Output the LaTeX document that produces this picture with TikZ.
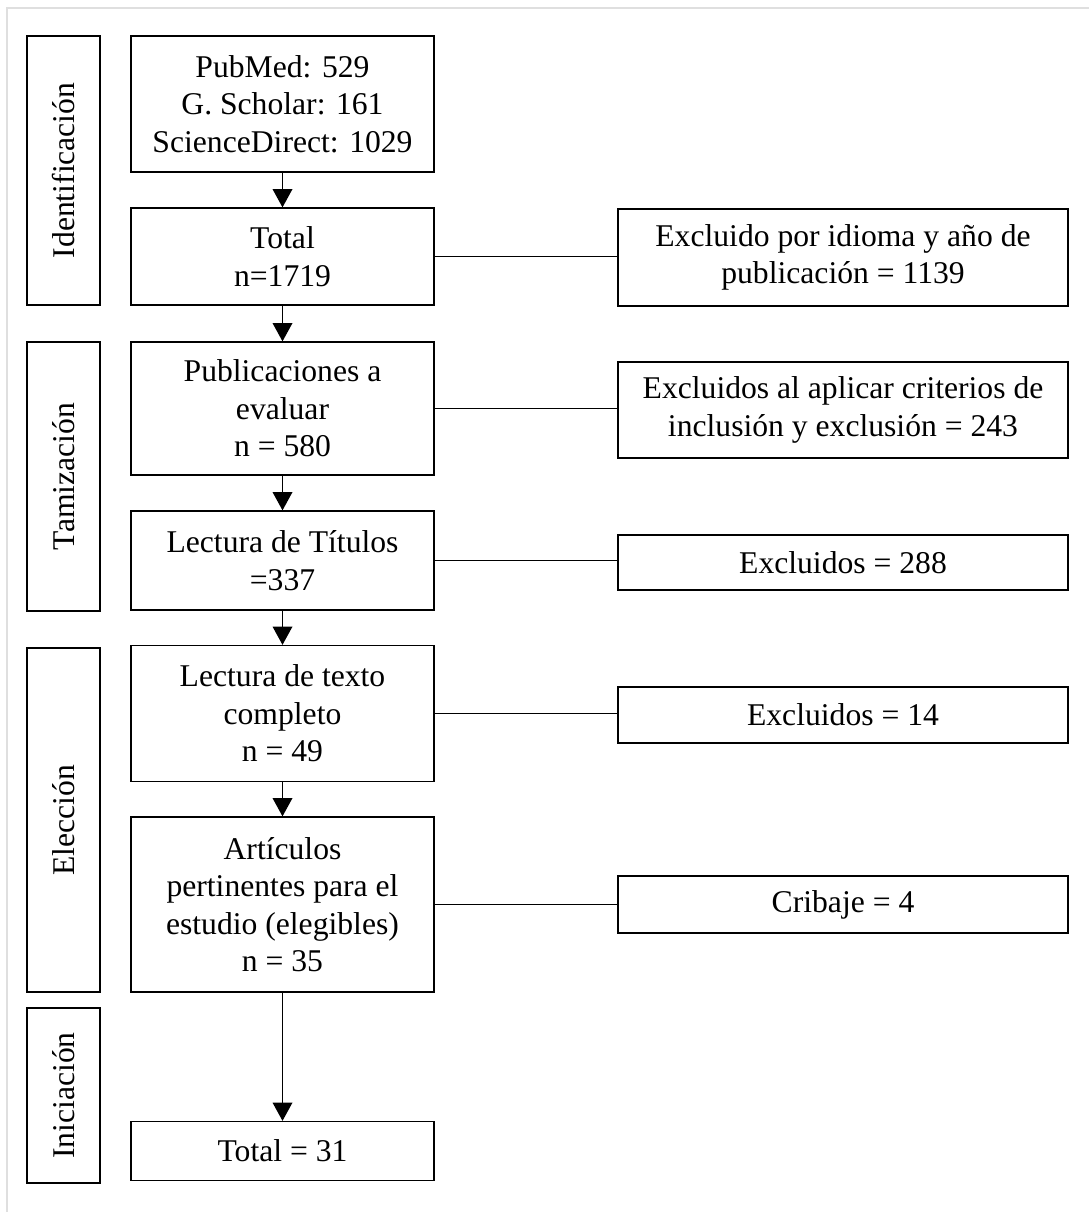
\documentclass[tikz,border=0pt]{standalone}
\usepackage{fontspec}
\setmainfont{Liberation Serif}
\usetikzlibrary{arrows.meta}

\tikzset{
    caja/.style={draw, line width=0.9pt, align=center, minimum width=7.575cm, inner sep=2pt},
    excl/.style={draw, line width=0.9pt, align=center, minimum width=11.25cm, inner sep=2pt},
    fase/.style={draw, line width=1.7pt, rotate=90, minimum height=1.825cm, inner sep=0pt},
    flecha/.style={line width=0.9pt, -{Triangle[width=14pt,length=13pt]}},
    linea/.style={line width=0.9pt}
}

\begin{document}
\begin{tikzpicture}[x=0.025cm, y=-0.025cm, font=\fontsize{22.5}{26.7}\selectfont]
    \useasboundingbox (0,0) rectangle (1089,1212);
    \draw[gray!25, line width=2pt] (7,1212)--(7,8)--(1089,8);

    \node[fase, minimum width=6.725cm] (identificacion) at (63.5,170.5) {Identificación};
    \node[fase, minimum width=6.725cm] (tamizacion) at (63.5,476.5) {Tamización};
    \node[fase, minimum width=8.6cm] (eleccion) at (63.5,820) {Elección};
    \node[fase, minimum width=4.375cm] (iniciacion) at (63.5,1095.5) {Iniciación};

    \node[caja, minimum height=3.4cm] (bases) at (282.5,104) {PubMed: 529\\G. Scholar: 161\\ScienceDirect: 1029};
    \node[caja, minimum height=2.425cm] (total) at (282.5,256.5) {Total\\n=1719};
    \node[caja, minimum height=3.325cm] (evaluar) at (282.5,408.5) {Publicaciones a\\evaluar\\n = 580};
    \node[caja, minimum height=2.475cm] (titulos) at (282.5,560.5) {Lectura de Títulos\\=337};
    \node[caja, minimum height=3.4cm] (texto) at (282.5,713.5) {Lectura de texto\\completo\\n = 49};
    \node[caja, minimum height=4.375cm] (articulos) at (282.5,904.5) {Artículos\\pertinentes para el\\estudio (elegibles)\\n = 35};
    \node[caja, minimum height=1.475cm] (final) at (282.5,1151) {Total = 31};

    \node[excl, minimum height=2.425cm] (idioma) at (843,257.5) {Excluido por idioma y año de\\publicación = 1139};
    \node[excl, minimum height=2.4cm] (criterios) at (843,410) {Excluidos al aplicar criterios de\\inclusión y exclusión = 243};
    \node[excl, minimum height=1.375cm] (excl288) at (843,562.5) {Excluidos = 288};
    \node[excl, minimum height=1.4cm] (excl14) at (843,715) {Excluidos = 14};
    \node[excl, minimum height=1.425cm] (cribaje) at (843,904.5) {Cribaje = 4};

    \draw[flecha](bases)--(total);
    \draw[flecha](total)--(evaluar);
    \draw[flecha](evaluar)--(titulos);
    \draw[flecha](titulos)--(texto);
    \draw[flecha](texto)--(articulos);
    \draw[flecha](articulos)--(final);

    \draw[linea](total.east)--(total.east -| idioma.west);
    \draw[linea](evaluar.east)--(evaluar.east -| criterios.west);
    \draw[linea](titulos.east)--(titulos.east -| excl288.west);
    \draw[linea](texto.east)--(texto.east -| excl14.west);
    \draw[linea](articulos.east)--(articulos.east -| cribaje.west);
\end{tikzpicture}
\end{document}
